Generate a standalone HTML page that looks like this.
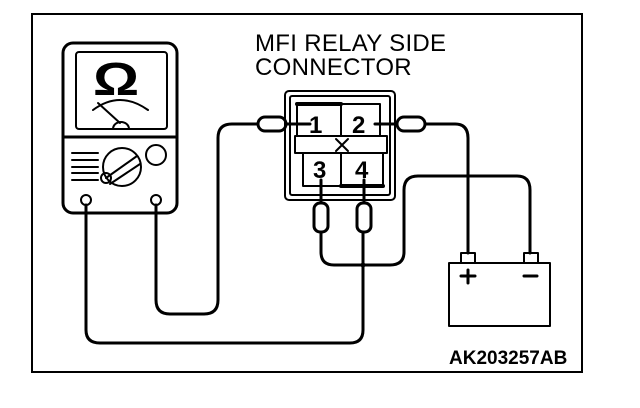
<!DOCTYPE html>
<html><head><style>
body{margin:0;background:#fff;}
svg{display:block;}
text{font-family:"Liberation Sans",sans-serif;}
</style></head><body>
<svg width="640" height="408" viewBox="0 0 640 408" xmlns="http://www.w3.org/2000/svg">
<rect width="640" height="408" fill="#fff"/>
<rect x="32" y="14" width="550" height="358" fill="none" stroke="#000" stroke-width="2"/>
<g fill="none" stroke="#000" stroke-width="3" stroke-linecap="round" stroke-linejoin="round">
<rect x="63" y="43" width="114" height="170" rx="10"/>
<rect x="76" y="52" width="91" height="77" rx="3" stroke-width="2"/>
<line x1="63" y1="137" x2="177" y2="137"/>
<path d="M93,110 Q120,90 148,110" stroke-width="2"/>
<line x1="98" y1="103" x2="120" y2="123" stroke-width="2"/>
<path d="M113,129 A8,7 0 0 1 129,129" stroke-width="2"/>
<circle cx="156" cy="155" r="10" stroke-width="2"/>
<circle cx="122" cy="167" r="19" stroke-width="2"/>
<line x1="106" y1="178" x2="137" y2="156" stroke-width="2"/>
<line x1="110" y1="184" x2="140" y2="164" stroke-width="2"/>
<circle cx="106" cy="178" r="5" stroke-width="2"/>
<path d="M72,153 H98 M72,160 H98 M72,167 H98 M72,173 H98 M72,180 H98" stroke-width="2"/>
<circle cx="86" cy="200" r="5" stroke-width="2"/>
<circle cx="156" cy="200" r="5" stroke-width="2"/>
<path d="M156,205 V300 Q156,314 170,314 H204 Q218,314 218,300 V138 Q218,124 232,124 H258"/>
<path d="M86,205 V330 Q86,343 100,343 H350 Q363,343 363,330 V232"/>
<path d="M321,232 V252 Q321,265 334,265 H390 Q404,265 404,252 V190 Q404,176 418,176 H517 Q530,176 530,190 V253"/>
<path d="M425,124 H455 Q468,124 468,138 V253"/>
<rect x="258" y="117" width="28" height="14" rx="7"/>
<line x1="286" y1="124" x2="310" y2="124"/>
<rect x="397" y="117" width="28" height="14" rx="7"/>
<line x1="375" y1="124" x2="397" y2="124"/>
<rect x="314" y="203" width="14" height="29" rx="6"/>
<rect x="357" y="203" width="14" height="29" rx="6"/>
<line x1="321" y1="180" x2="321" y2="203"/>
<line x1="364" y1="180" x2="364" y2="203"/>
<rect x="285" y="91" width="110" height="109" rx="4" stroke-width="2"/>
<rect x="290" y="96" width="100" height="99" rx="2" stroke-width="2"/>
<rect x="297" y="104" width="83" height="32" stroke-width="2"/>
<line x1="297" y1="104" x2="341" y2="104" stroke-width="4"/>
<line x1="341" y1="104" x2="341" y2="136" stroke-width="2"/>
<rect x="295" y="136" width="92" height="17" stroke-width="2"/>
<path d="M336,139 L348,151 M348,139 L336,151" stroke-width="2"/>
<rect x="303" y="153" width="80" height="33" stroke-width="2"/>
<line x1="341" y1="153" x2="341" y2="186" stroke-width="2"/>
<line x1="341" y1="186" x2="383" y2="186" stroke-width="4"/>
<rect x="449" y="263" width="101" height="63" stroke-width="2"/>
<rect x="461" y="253" width="14" height="10" stroke-width="2"/>
<rect x="524" y="253" width="14" height="10" stroke-width="2"/>
<path d="M461,276 H475 M468,270 V283 M524,276 H537"/>
</g>
<circle cx="363" cy="265" r="2.5" fill="#000"/>
<text x="0" y="0" font-size="46" font-weight="bold" transform="translate(93,95) scale(1.25,1)">Ω</text>
<g font-size="24" font-weight="bold">
<text x="309" y="133">1</text>
<text x="352" y="133">2</text>
<text x="313" y="178">3</text>
<text x="355" y="178">4</text>
</g>
<text x="255" y="51" font-size="24" letter-spacing="0.3">MFI RELAY SIDE</text>
<text x="255" y="75" font-size="24" letter-spacing="0.3">CONNECTOR</text>
<text x="449" y="364" font-size="19" font-weight="bold">AK203257AB</text>
</svg>
</body></html>
